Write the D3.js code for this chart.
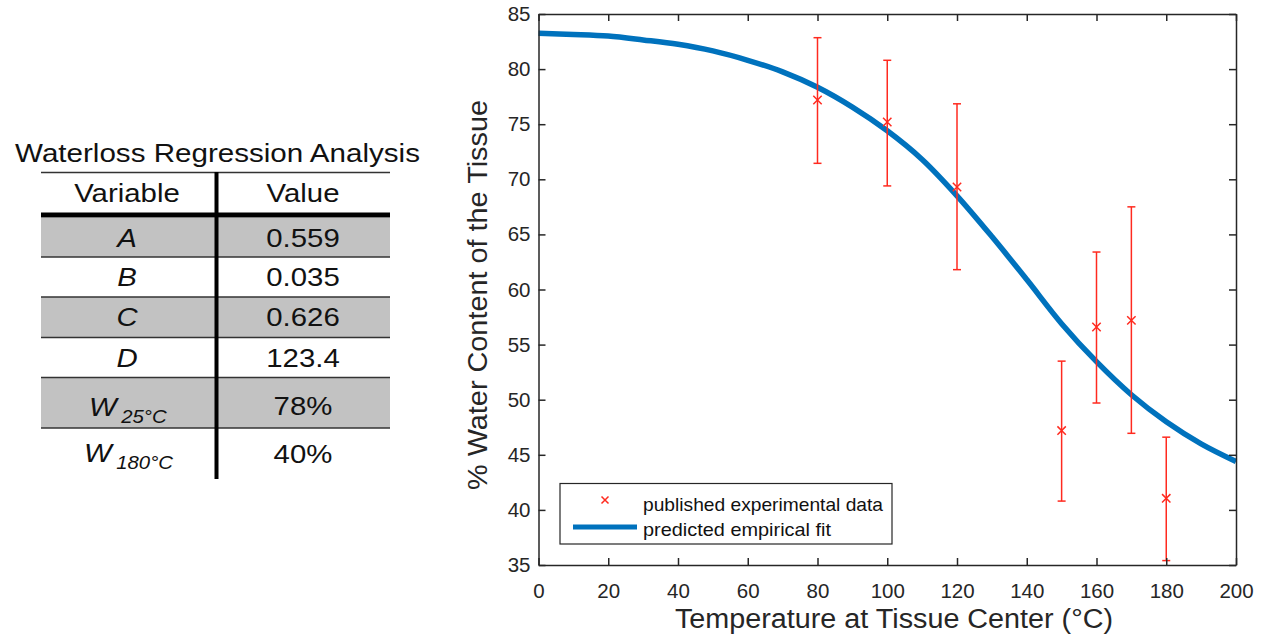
<!DOCTYPE html>
<meta charset="utf-8">
<style>
body { margin: 0; background: #fff; }
svg { display: block; font-family: 'Liberation Sans', Arial, sans-serif; }
</style>
<body>
<script src="https://cdn.jsdelivr.net/npm/d3@7"></script>
<script>
// fitted curve, every 10 °C
var fitTemps = [0, 10, 20, 30, 40, 50, 60, 70, 80, 90, 100, 110, 120, 130, 140, 150, 160, 170, 180, 190, 200]
var fitValues = [83.25, 83.15, 83.0, 82.65, 82.25, 81.65, 80.8, 79.75, 78.35, 76.55, 74.4, 71.8, 68.5, 64.8, 60.9, 56.9, 53.45, 50.45, 48.0, 46.0, 44.4]

// experimental points with error bars
var expTemps = [80, 100, 120, 150, 160, 170, 180]
var expValues = [77.2, 75.2, 69.3, 47.2, 56.6, 57.2, 41.05]
var expUpper = [82.85, 80.8, 76.85, 53.5, 63.4, 67.5, 46.6]
var expLower = [71.45, 69.4, 61.8, 40.8, 49.7, 46.95, 35.4]

var xTicks = [0, 20, 40, 60, 80, 100, 120, 140, 160, 180, 200]
var yTicks = [35, 40, 45, 50, 55, 60, 65, 70, 75, 80, 85]

// regression table
var tableVariables = ['A', 'B', 'C', 'D', 'W', 'W']
var tableSubscripts = ['', '', '', '', '25°C', '180°C']
var tableValues = ['0.559', '0.035', '0.626', '123.4', '78%', '40%']

var width = 1263
var height = 636
var blue = '#0072bd'
var red = '#ff2a1f'
var ink = '#262626'
var stretch = 1.13   // the source picture is a little wider than tall

var svg = d3.select('body')
    .append('svg')
    .attr('width', width)
    .attr('height', height)

// ---------- table ----------
var table = svg.append('g')
var rowTops = [218, 257, 297, 337.5, 377.5, 428]
var rowBottoms = [257, 297, 337.5, 377.5, 428, 478]
var colVar = 127
var colVal = 303

function put(sel, px, py, sx) {
    return sel.attr('transform', 'translate(' + px + ',' + py + ') scale(' + (sx || stretch) + ',1)')
}

put(table.append('text'), 217.5, 162, 1.16)
    .attr('text-anchor', 'middle')
    .style('font-size', '25.5px')
    .style('fill', '#111')
    .text('Waterloss Regression Analysis')

table.selectAll('.band')
    .data(rowTops.filter(function (d, i) { return i % 2 === 0 }))
    .enter().append('rect')
    .attr('x', 41)
    .attr('width', 349)
    .attr('y', function (d) { return d })
    .attr('height', function (d) { return rowBottoms[rowTops.indexOf(d)] - d })
    .style('fill', '#c2c2c2')

table.append('line')
    .attr('x1', 41).attr('x2', 390)
    .attr('y1', 172.5).attr('y2', 172.5)
    .style('stroke', '#333').style('stroke-width', 1.5)

table.selectAll('.sep')
    .data(rowBottoms.slice(0, 5))
    .enter().append('line')
    .attr('x1', 41).attr('x2', 390)
    .attr('y1', function (d) { return d }).attr('y2', function (d) { return d })
    .style('stroke', '#333').style('stroke-width', 1.5)

table.append('line')
    .attr('x1', 41).attr('x2', 390)
    .attr('y1', 215).attr('y2', 215)
    .style('stroke', '#000').style('stroke-width', 5)

table.append('line')
    .attr('x1', 216.5).attr('x2', 216.5)
    .attr('y1', 172).attr('y2', 479)
    .style('stroke', '#000').style('stroke-width', 4)

table.selectAll('.head')
    .data([['Variable', colVar], ['Value', colVal]])
    .enter().append('text')
    .each(function (d) { put(d3.select(this), d[1], 202) })
    .attr('text-anchor', 'middle')
    .style('font-size', '26px')
    .style('fill', '#111')
    .text(function (d) { return d[0] })

var rows = table.selectAll('.row')
    .data(tableVariables)
    .enter().append('g')

rows.append('text')
    .each(function (d, i) { put(d3.select(this), colVal, i < 4 ? rowTops[i] + 29 : (i === 4 ? 415 : 463)) })
    .attr('text-anchor', 'middle')
    .style('font-size', '26px')
    .style('fill', '#111')
    .text(function (d, i) { return tableValues[i] })

rows.append('text')
    .each(function (d, i) {
        put(d3.select(this), i < 4 ? colVar : (i === 4 ? 89 : 84), i < 4 ? rowTops[i] + 29 : (i === 4 ? 416 : 462))
    })
    .attr('text-anchor', function (d, i) { return i < 4 ? 'middle' : 'start' })
    .style('font-size', '26px')
    .style('font-style', 'italic')
    .style('fill', '#111')
    .text(function (d) { return d })
    .append('tspan')
    .attr('dx', 4)
    .attr('dy', 7)
    .style('font-size', '18px')
    .text(function (d, i) { return tableSubscripts[i] })

// ---------- plot ----------
var x = d3.scaleLinear().domain([0, 200]).range([538.5, 1236])
var y = d3.scaleLinear().domain([35, 85]).range([565, 14])

var plot = svg.append('g')

var line = d3.line()
    .x(function (d, i) { return x(fitTemps[i]) })
    .y(function (d) { return y(d) })
    .curve(d3.curveCatmullRom.alpha(0.5))

plot.append('path')
    .datum(fitValues)
    .attr('d', line)
    .style('fill', 'none')
    .style('stroke', blue)
    .style('stroke-width', 5.5)

var pts = plot.selectAll('.pt')
    .data(expTemps)
    .enter().append('g')
    .style('stroke', red)
    .style('stroke-width', 1.5)

pts.append('line')
    .attr('x1', function (d) { return x(d) }).attr('x2', function (d) { return x(d) })
    .attr('y1', function (d, i) { return y(expUpper[i]) })
    .attr('y2', function (d, i) { return y(expLower[i]) })

pts.selectAll('.cap')
    .data(function (d, i) { return [[d, expUpper[i]], [d, expLower[i]]] })
    .enter().append('line')
    .attr('x1', function (d) { return x(d[0]) - 4 }).attr('x2', function (d) { return x(d[0]) + 4 })
    .attr('y1', function (d) { return y(d[1]) }).attr('y2', function (d) { return y(d[1]) })

function cross(g, cx, cy, r) {
    g.append('path')
        .attr('d', 'M' + (cx - r) + ',' + (cy - r) + 'L' + (cx + r) + ',' + (cy + r) +
            'M' + (cx - r) + ',' + (cy + r) + 'L' + (cx + r) + ',' + (cy - r))
}

pts.each(function (d, i) {
    cross(d3.select(this), x(d), y(expValues[i]), 4.2)
})

// axes with inward ticks and box
plot.append('g')
    .attr('transform', 'translate(0,' + y(35) + ')')
    .call(d3.axisBottom(x).tickValues(xTicks).tickSizeInner(-7).tickSizeOuter(0).tickPadding(18))
plot.append('g')
    .attr('transform', 'translate(0,' + y(85) + ')')
    .call(d3.axisTop(x).tickValues(xTicks).tickSizeInner(-7).tickSizeOuter(0).tickFormat(''))
plot.append('g')
    .attr('transform', 'translate(' + x(0) + ',0)')
    .call(d3.axisLeft(y).tickValues(yTicks).tickSizeInner(-7).tickSizeOuter(0).tickPadding(8))
plot.append('g')
    .attr('transform', 'translate(' + x(200) + ',0)')
    .call(d3.axisRight(y).tickValues(yTicks).tickSizeInner(-7).tickSizeOuter(0).tickFormat(''))

plot.selectAll('.domain, .tick line')
    .style('stroke', ink)
    .style('stroke-width', 1.5)
plot.selectAll('.tick text')
    .style('font-size', '20.5px')
    .style('fill', ink)
    .style('font-family', "'Liberation Sans', Arial, sans-serif")

plot.append('text')
    .attr('x', 675)
    .attr('y', 628)
    .attr('textLength', 438)
    .attr('lengthAdjust', 'spacingAndGlyphs')
    .style('font-size', '27px')
    .style('fill', ink)
    .text('Temperature at Tissue Center (°C)')

plot.append('text')
    .attr('transform', 'translate(487,490) rotate(-90)')
    .attr('textLength', 390)
    .attr('lengthAdjust', 'spacingAndGlyphs')
    .style('font-size', '27px')
    .style('fill', ink)
    .text('% Water Content of the Tissue')

// legend
var legend = plot.append('g')
legend.append('rect')
    .attr('x', 560).attr('y', 483.5)
    .attr('width', 332).attr('height', 60.5)
    .style('fill', '#fff')
    .style('stroke', ink)
    .style('stroke-width', 1.2)

var lgX = legend.append('g').style('stroke', red).style('stroke-width', 1.5)
cross(lgX, 605, 500, 3.5)

legend.append('line')
    .attr('x1', 573).attr('x2', 637)
    .attr('y1', 527).attr('y2', 527)
    .style('stroke', blue)
    .style('stroke-width', 5)

legend.selectAll('.lt')
    .data(['published experimental data', 'predicted empirical fit'])
    .enter().append('text')
    .attr('x', 643)
    .attr('y', function (d, i) { return 511 + i * 25 })
    .attr('textLength', function (d, i) { return i === 0 ? 240 : 188 })
    .attr('lengthAdjust', 'spacingAndGlyphs')
    .style('font-size', '18.5px')
    .style('fill', '#111')
    .text(function (d) { return d })
</script>
</body>
